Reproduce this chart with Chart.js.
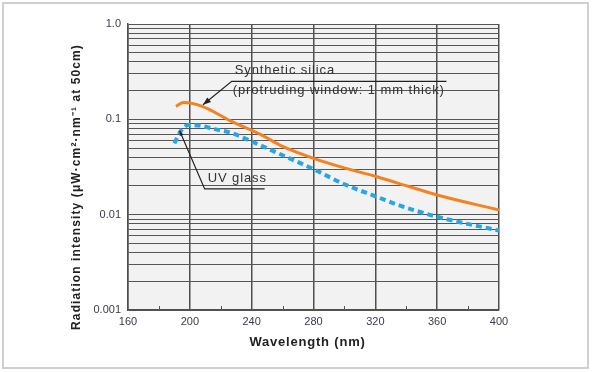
<!DOCTYPE html>
<html>
<head>
<meta charset="utf-8">
<script src="https://cdn.jsdelivr.net/npm/chart.js@4.4.1/dist/chart.umd.min.js"></script>
<style>
    html, body { margin: 0; padding: 0; background: #fff; }
    #wrap { position: relative; width: 597px; height: 372px; }
    #frame {
        position: absolute; left: 2px; top: 2px; width: 583px; height: 363px;
        border: 2px solid #cfcfcf;
    }
    #chart { position: absolute; left: 0; top: 0; }
</style>
</head>
<body>
<div id="wrap">
    <div id="frame"></div>
    <canvas id="chart" width="597" height="372"></canvas>
</div>
<script>
// wavelength (nm) / radiation intensity
const silicaWavelength = [191, 196, 208, 227, 246, 260, 280, 301, 321, 335, 360, 400];
const silicaIntensity = [0.137, 0.150, 0.137, 0.095, 0.069, 0.052, 0.039, 0.0306, 0.025, 0.0213, 0.0161, 0.0112];

const uvGlassWavelength = [190, 194, 199, 206, 216, 227, 240, 260, 280, 301, 321, 335, 360, 400];
const uvGlassIntensity = [0.056, 0.075, 0.087, 0.086, 0.079, 0.072, 0.0586, 0.042, 0.030, 0.0205, 0.0154, 0.0126, 0.0095, 0.0068];

const xTicks = [160, 200, 240, 280, 320, 360, 400];
const xMinorTicks = [180, 220, 260, 300, 340, 380];
const yDecades = [0.001, 0.01, 0.1, 1];
const yDecadeLabels = ["0.001", "0.01", "0.1", "1.0"];

const xTitle = "Wavelength (nm)";
const yTitle = "Radiation intensity (\u03bcW\u00b7cm\u00b2\u00b7nm\u207b\u00b9 at 50cm)";

// callouts, anchored in data units
const silicaNote = {
    lines: ["Synthetic silica", "(protruding window: 1 mm thick)"],
    tip: { x: 208.5, y: 0.142 },
    elbow: { x: 227.1, y: 0.25 },
    endX: 366,
};
const uvGlassNote = {
    lines: ["UV glass"],
    tip: { x: 193.4, y: 0.076 },
    elbow: { x: 209.6, y: 0.0186 },
    endX: 248.4,
};

const FONT = "'Liberation Sans', Arial, sans-serif";

// 1..9 x 10^n grid lines
const yGridTicks = [];
yDecades.slice(0, -1).forEach((d) => {
    for (let i = 1; i < 10; i++) yGridTicks.push(+(d * i).toPrecision(3));
});
yGridTicks.push(yDecades[yDecades.length - 1]);

const toPoints = (xs, ys) => xs.map((x, i) => ({ x: x, y: ys[i] }));

const plotBackground = {
    id: "plotBackground",
    beforeDraw(chart) {
        const { ctx, chartArea: a } = chart;
        ctx.save();
        ctx.fillStyle = "#f2f2f2";
        ctx.fillRect(a.left, a.top, a.right - a.left, a.bottom - a.top);
        ctx.restore();
    },
};

function drawArrowHead(ctx, from, to, len, wid) {
    const ang = Math.atan2(to.y - from.y, to.x - from.x);
    ctx.beginPath();
    ctx.moveTo(to.x, to.y);
    ctx.lineTo(to.x - len * Math.cos(ang) + wid * Math.sin(ang), to.y - len * Math.sin(ang) - wid * Math.cos(ang));
    ctx.lineTo(to.x - len * Math.cos(ang) - wid * Math.sin(ang), to.y - len * Math.sin(ang) + wid * Math.cos(ang));
    ctx.closePath();
    ctx.fill();
}

const extras = {
    id: "extras",
    afterDraw(chart) {
        const { ctx, chartArea: a } = chart;
        const xs = chart.scales.x;
        const ys = chart.scales.y;
        ctx.save();

        // minor ticks inside the bottom edge
        ctx.strokeStyle = "#555";
        ctx.lineWidth = 1;
        xMinorTicks.forEach((v) => {
            const px = Math.round(xs.getPixelForValue(v)) + 0.5;
            ctx.beginPath();
            ctx.moveTo(px, a.bottom);
            ctx.lineTo(px, a.bottom - 4);
            ctx.stroke();
        });

        // callouts
        [silicaNote, uvGlassNote].forEach((note, n) => {
            const tip = { x: xs.getPixelForValue(note.tip.x), y: ys.getPixelForValue(note.tip.y) };
            const elbow = { x: xs.getPixelForValue(note.elbow.x), y: ys.getPixelForValue(note.elbow.y) };
            const endX = xs.getPixelForValue(note.endX);
            ctx.strokeStyle = "#222";
            ctx.fillStyle = "#222";
            ctx.lineWidth = 1.2;
            ctx.beginPath();
            ctx.moveTo(endX, elbow.y);
            ctx.lineTo(elbow.x, elbow.y);
            ctx.lineTo(tip.x, tip.y);
            ctx.stroke();
            drawArrowHead(ctx, elbow, tip, n === 0 ? 8 : 5, n === 0 ? 3 : 2);

            ctx.fillStyle = "#333";
            ctx.font = "13px " + FONT;
            ctx.letterSpacing = "0.9px";
            ctx.textAlign = "left";
            ctx.textBaseline = "alphabetic";
            ctx.fillText(note.lines[0], elbow.x + 3, elbow.y - 7);
            if (note.lines[1]) ctx.fillText(note.lines[1], elbow.x + 1, elbow.y + 12.5);
        });

        // axis titles
        ctx.fillStyle = "#222";
        ctx.font = "bold 13px " + FONT;
        ctx.letterSpacing = "0.8px";
        ctx.textAlign = "center";
        ctx.textBaseline = "middle";
        ctx.fillText(xTitle, (a.left + a.right) / 2 - 6, a.bottom + 32);

        ctx.font = "bold 12px " + FONT;
        ctx.letterSpacing = "1.1px";
        ctx.translate(77, a.top + (a.bottom - a.top) / 2 + 20);
        ctx.rotate(-Math.PI / 2);
        ctx.fillText(yTitle, 0, 0);
        ctx.restore();
    },
};

new Chart(document.getElementById("chart"), {
    type: "line",
    data: {
        datasets: [
            {
                label: "UV glass",
                data: toPoints(uvGlassWavelength, uvGlassIntensity),
                borderColor: "#25a6e6",
                borderWidth: 4,
                borderDash: [6, 4],
                pointRadius: 0,
                tension: 0.4,
                cubicInterpolationMode: "monotone",
            },
            {
                label: "Synthetic silica",
                data: toPoints(silicaWavelength, silicaIntensity),
                borderColor: "#f5821f",
                borderWidth: 3,
                pointRadius: 0,
                tension: 0.4,
                cubicInterpolationMode: "monotone",
            },
        ],
    },
    options: {
        responsive: false,
        animation: false,
        layout: { padding: { left: 0, top: 24, right: 98, bottom: 0 } },
        plugins: {
            legend: { display: false },
            tooltip: { enabled: false },
        },
        scales: {
            x: {
                type: "linear",
                min: 160,
                max: 400,
                afterFit: (scale) => { scale.height = 62; },
                afterBuildTicks: (scale) => {
                    scale.ticks = xTicks.map((v) => ({ value: v }));
                },
                grid: { color: "#4f4f4f", lineWidth: 1.5, drawTicks: false },
                border: { color: "#4f4f4f", width: 1.5 },
                ticks: {
                    padding: 5,
                    color: "#3a3a4e",
                    font: { family: FONT, size: 11 },
                    maxRotation: 0,
                    autoSkip: false,
                },
            },
            y: {
                type: "logarithmic",
                min: 0.001,
                max: 1,
                afterFit: (scale) => { scale.width = 128; },
                afterBuildTicks: (scale) => {
                    scale.ticks = yGridTicks.map((v) => ({ value: v }));
                },
                grid: { color: "#565656", lineWidth: 1, drawTicks: false },
                border: { color: "#4f4f4f", width: 1.5 },
                ticks: {
                    padding: 7,
                    color: "#3a3a4e",
                    font: { family: FONT, size: 11 },
                    autoSkip: false,
                    callback: (v) => {
                        const i = yDecades.findIndex((d) => Math.abs(d - v) / d < 1e-6);
                        return i >= 0 ? yDecadeLabels[i] : "";
                    },
                },
            },
        },
    },
    plugins: [plotBackground, extras],
});
</script>
</body>
</html>
